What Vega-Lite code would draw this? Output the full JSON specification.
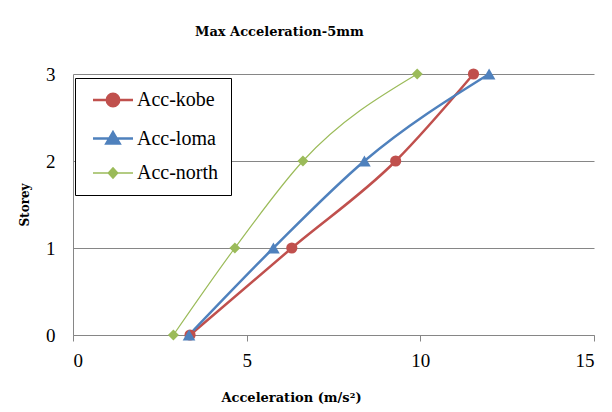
{
  "$schema": "https://vega.github.io/schema/vega-lite/v6.json",
  "width": 521,
  "height": 261,
  "autosize": "none",
  "padding": {"left": 73, "top": 74, "right": 18, "bottom": 77},
  "background": "white",
  "title": {
    "text": "Max Acceleration-5mm",
    "anchor": "start",
    "frame": "group",
    "dx": 122,
    "offset": 26,
    "font": "DejaVu Serif",
    "fontSize": 13,
    "fontWeight": "bold",
    "color": "black"
  },
  "config": {
    "view": {"stroke": null},
    "axis": {
      "labelFont": "Liberation Serif",
      "labelFontSize": 19,
      "labelColor": "black",
      "titleFont": "DejaVu Serif",
      "titleFontWeight": "bold",
      "titleColor": "black",
      "domainColor": "#868686",
      "tickColor": "#868686",
      "gridColor": "#868686",
      "gridOpacity": 1
    }
  },
  "data": {
    "values": [
      {"series": "Acc-kobe", "acc": 3.37, "storey": 0},
      {"series": "Acc-kobe", "acc": 6.3, "storey": 1},
      {"series": "Acc-kobe", "acc": 9.29, "storey": 2},
      {"series": "Acc-kobe", "acc": 11.53, "storey": 3},
      {"series": "Acc-loma", "acc": 3.34, "storey": 0},
      {"series": "Acc-loma", "acc": 5.77, "storey": 1},
      {"series": "Acc-loma", "acc": 8.39, "storey": 2},
      {"series": "Acc-loma", "acc": 11.98, "storey": 3},
      {"series": "Acc-north", "acc": 2.89, "storey": 0},
      {"series": "Acc-north", "acc": 4.66, "storey": 1},
      {"series": "Acc-north", "acc": 6.62, "storey": 2},
      {"series": "Acc-north", "acc": 9.91, "storey": 3}
    ]
  },
  "encoding": {
    "x": {
      "field": "acc",
      "type": "quantitative",
      "scale": {"domain": [0, 15], "nice": false},
      "axis": {
        "values": [0, 5, 10, 15],
        "grid": false,
        "tickSize": 6,
        "labelPadding": 10,
        "title": "Acceleration (m/s²)",
        "titleFontSize": 13,
        "titleX": 218,
        "titlePadding": 21
      }
    },
    "y": {
      "field": "storey",
      "type": "quantitative",
      "scale": {"domain": [0, 3], "nice": false},
      "axis": {
        "values": [0, 1, 2, 3],
        "grid": true,
        "ticks": false,
        "labelPadding": 18,
        "title": "Storey",
        "titleFontSize": 12,
        "titlePadding": 14
      }
    }
  },
  "layer": [
    {
      "mark": {"type": "line", "interpolate": "monotone"},
      "encoding": {
        "color": {
          "field": "series",
          "type": "nominal",
          "scale": {"domain": ["Acc-kobe", "Acc-loma", "Acc-north"], "range": ["#C0504D", "#4F81BD", "#9BBB59"]},
          "legend": {
            "orient": "none", "legendX": 2, "legendY": 4, "title": null,
            "strokeColor": "black", "fillColor": "white", "padding": 12,
            "symbolSize": 400, "symbolOffset": 16, "labelOffset": 14, "rowPadding": 14.5,
            "symbolStrokeWidth": 2.5, "symbolOpacity": 1,
            "labelFontSize": 20, "labelFont": "Liberation Serif", "labelColor": "black",
            "encode": {
              "symbols": {
                "update": {
                  "shape": {"signal": "datum.value === 'Acc-kobe' ? 'M-2,0H2M-0.62,0A0.62,0.62,0,1,0,0.62,0A0.62,0.62,0,1,0,-0.62,0Z' : datum.value === 'Acc-loma' ? 'M-2,0H2M0,-0.62L0.66,0.5L-0.66,0.5Z' : 'M-2,0H2M0,-0.52L0.48,0L0,0.52L-0.48,0Z'"},
                  "fill": {"scale": "color", "field": "value"},
                  "stroke": {"scale": "color", "field": "value"},
                  "strokeWidth": {"signal": "datum.value === 'Acc-north' ? 1.3 : 2.5"},
                  "size": {"value": 400},
                  "opacity": {"value": 1}
                }
              }
            }
          }
        },
        "strokeWidth": {
          "condition": {"test": "datum.series === 'Acc-north'", "value": 1.2},
          "value": 2.5
        }
      }
    },
    {
      "transform": [{"filter": "datum.series === 'Acc-kobe'"}],
      "mark": {"type": "point", "shape": "circle", "filled": true, "opacity": 1, "size": 125, "color": "#C0504D"}
    },
    {
      "transform": [{"filter": "datum.series === 'Acc-loma'"}],
      "mark": {"type": "point", "shape": "triangle-up", "filled": true, "opacity": 1, "size": 160, "color": "#4F81BD"}
    },
    {
      "transform": [{"filter": "datum.series === 'Acc-north'"}],
      "mark": {"type": "point", "shape": "diamond", "filled": true, "opacity": 1, "size": 120, "color": "#9BBB59"}
    }
  ]
}
